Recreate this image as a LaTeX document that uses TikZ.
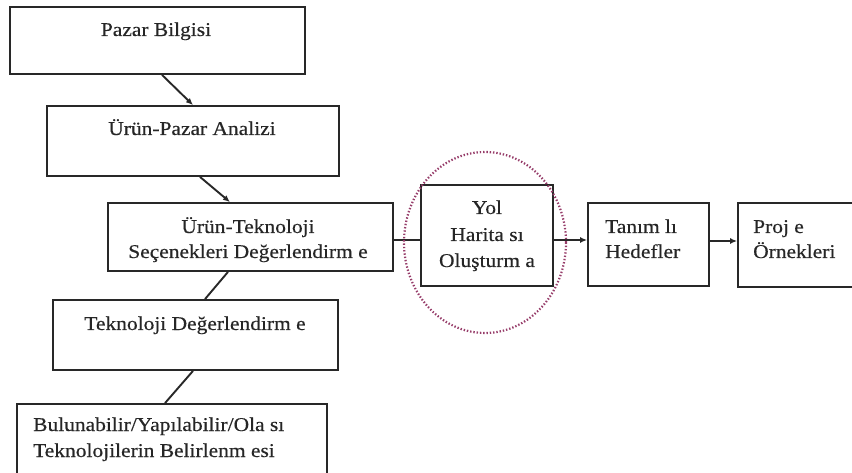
\documentclass[tikz,border=0pt]{standalone}
\usepackage{fontspec}
\setmainfont{Liberation Serif}[FakeStretch=1.1,FakeBold=0.4]
\usetikzlibrary{arrows.meta,shapes.geometric}
\definecolor{edge}{RGB}{40,40,40}
\definecolor{focus}{RGB}{150,60,105}
\begin{document}
\begin{tikzpicture}[x=1pt,y=-1pt,
  box/.style={draw=edge,line width=1.8pt,fill=white,inner sep=0pt},
  lbl/.style={font=\fontsize{19.5}{23}\selectfont,text=black!85,inner sep=0pt,anchor=base},
  lbll/.style={lbl,anchor=base west},
  link/.style={draw=edge,line width=1.9pt},
  arrow/.style={link,-{Latex[length=7pt,width=6pt]}}]
\useasboundingbox (0,0) rectangle (852,473);
\clip (0,0) rectangle (852,473);

% boxes
\node[box,minimum width=295pt,minimum height=67pt] (b1) at (157.5,40.5) {};
\node[box,minimum width=292pt,minimum height=70pt] (b2) at (193,141) {};
\node[box,minimum width=285pt,minimum height=68pt] (b3) at (250.5,237) {};
\node[box,minimum width=285pt,minimum height=70pt] (b4) at (195.5,335) {};
\node[box,minimum width=310pt,minimum height=76pt] (b5) at (172,442) {};
\node[box,minimum width=132pt,minimum height=101pt] (b6) at (487,235.5) {};
\node[box,minimum width=121pt,minimum height=83pt] (b7) at (648.5,244.5) {};
\node[box,minimum width=132pt,minimum height=84pt] (b8) at (804,245) {};

% labels
\node[lbl] (t1) at (156,36) {Pazar Bilgisi};
\node[lbl] (t2) at (192,135) {Ürün-Pazar Analizi};
\node[lbl] (t3a) at (248,233) {Ürün-Teknoloji};
\node[lbl] (t3b) at (248,258) {Seçenekleri Değerlendirm e};
\node[lbl] (t4) at (195,330) {Teknoloji Değerlendirm e};
\node[lbll] (t5a) at (33,431) {Bulunabilir/Yapılabilir/Ola sı};
\node[lbll] (t5b) at (33,457) {Teknolojilerin Belirlenm esi};
\node[lbl] (t6a) at (487,214) {Yol};
\node[lbl] (t6b) at (487,241) {Harita sı};
\node[lbl] (t6c) at (487,267) {Oluşturm a};
\node[lbll] (t7a) at (605,233) {Tanım lı};
\node[lbll] (t7b) at (605,258) {Hedefler};
\node[lbll] (t8a) at (753,233) {Proj e};
\node[lbll] (t8b) at (753,258) {Örnekleri};

% connectors
\draw[arrow] ([xshift=4.5pt]b1.south) -- (b2.north);
\draw[arrow] ([xshift=7pt]b2.south) -- ([xshift=-20.5pt]b3.north);
\draw[link] ([xshift=-22.5pt]b3.south) -- ([xshift=9.5pt]b4.north);
\draw[link] ([xshift=-2.5pt]b4.south) -- ([xshift=-7pt]b5.north);
\draw[link] ([yshift=-3pt]b3.east) coordinate (m1) -- (m1 -| b6.west);
\draw[arrow] ([yshift=-4.5pt]b6.east) coordinate (m2) -- (m2 -| b7.west);
\draw[arrow] ([yshift=3.5pt]b7.east) coordinate (m3) -- (m3 -| b8.west);

% highlight around the road-map step
\node[ellipse,draw=focus,line width=2.2pt,dash pattern=on 1.4pt off 1.9pt,
      minimum width=162pt,minimum height=181pt,inner sep=0pt] (hl) at (485,242.5) {};
\end{tikzpicture}
\end{document}
